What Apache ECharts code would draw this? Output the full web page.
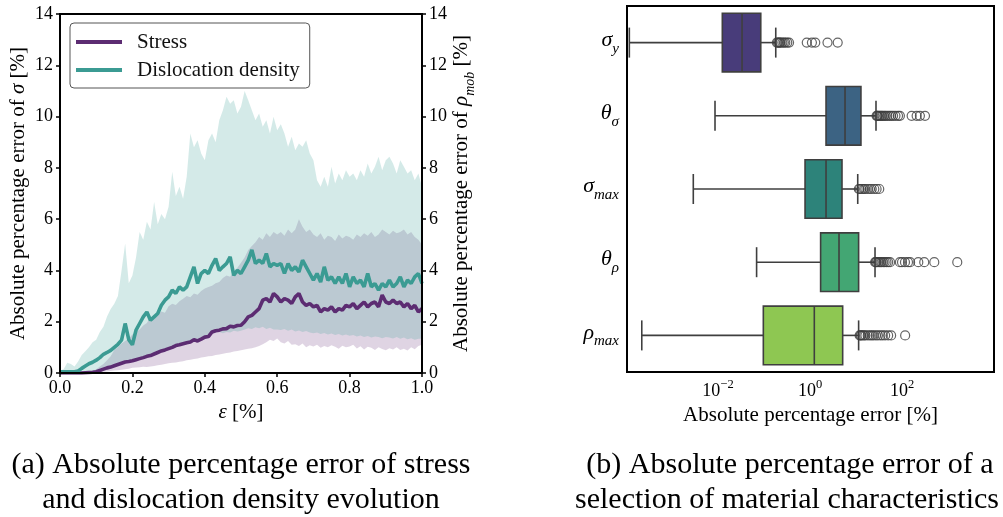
<!DOCTYPE html>
<html><head><meta charset="utf-8">
<script src="https://cdn.jsdelivr.net/npm/echarts@6/dist/echarts.min.js"></script>
<style>html,body{margin:0;padding:0;background:#fff}#c{width:1003px;height:517px}</style>
</head><body><div id="c"></div>
<script>
// ---------- Data: (a) strain evolution ----------
const strain = [0,0.01,0.02,0.03,0.04,0.05,0.06,0.07,0.08,0.09,0.1,0.11,0.12,0.13,0.14,0.15,0.16,0.17,0.18,0.19,0.2,0.21,0.22,0.23,0.24,0.25,0.26,0.27,0.28,0.29,0.3,0.31,0.32,0.33,0.34,0.35,0.36,0.37,0.38,0.39,0.4,0.41,0.42,0.43,0.44,0.45,0.46,0.47,0.48,0.49,0.5,0.51,0.52,0.53,0.54,0.55,0.56,0.57,0.58,0.59,0.6,0.61,0.62,0.63,0.64,0.65,0.66,0.67,0.68,0.69,0.7,0.71,0.72,0.73,0.74,0.75,0.76,0.77,0.78,0.79,0.8,0.81,0.82,0.83,0.84,0.85,0.86,0.87,0.88,0.89,0.9,0.91,0.92,0.93,0.94,0.95,0.96,0.97,0.98,0.99,1.0];

const stressMean = [0,0,0,0,0,0,0,0.01,0.02,0.03,0.05,0.1,0.15,0.2,0.23,0.28,0.33,0.38,0.43,0.45,0.48,0.52,0.56,0.6,0.65,0.68,0.74,0.8,0.86,0.9,0.95,1.0,1.07,1.1,1.14,1.18,1.21,1.3,1.25,1.32,1.4,1.42,1.6,1.65,1.67,1.72,1.73,1.82,1.8,1.85,1.86,2.0,2.19,2.25,2.38,2.51,2.84,2.9,2.77,3.1,2.97,2.77,2.9,2.84,2.71,2.97,3.1,2.77,2.64,2.71,2.58,2.64,2.38,2.51,2.45,2.58,2.38,2.51,2.45,2.64,2.58,2.71,2.51,2.64,2.77,2.58,2.71,2.77,2.58,3.04,2.77,2.71,2.84,2.71,2.77,2.58,2.71,2.51,2.64,2.38,2.51];
const stressLow = [0,0,0,0,0,0,0,0,0,0.01,0.02,0.03,0.05,0.06,0.08,0.1,0.11,0.13,0.15,0.17,0.2,0.21,0.22,0.24,0.23,0.25,0.27,0.3,0.32,0.35,0.38,0.4,0.41,0.44,0.46,0.5,0.52,0.55,0.57,0.6,0.62,0.65,0.66,0.7,0.72,0.75,0.78,0.8,0.84,0.86,0.89,0.92,0.95,0.97,1.0,1.05,1.12,1.2,1.3,1.25,1.35,1.2,1.15,1.25,1.1,1.12,1.05,1.15,1.0,1.08,1.03,1.1,0.98,1.05,1.0,1.08,1.02,0.95,1.06,1.0,1.03,1.1,0.96,1.04,0.92,1.02,0.98,0.9,1.0,0.94,0.89,0.97,0.92,1.0,0.9,0.95,0.88,1.0,0.93,1.05,1.1];
const stressHigh = [0,0,0,0,0,0,0.01,0.02,0.04,0.08,0.15,0.25,0.35,0.5,0.65,0.9,1.0,1.15,1.25,1.35,1.5,1.6,1.7,1.85,1.95,2.2,2.1,2.3,2.4,2.35,2.6,2.7,2.65,2.8,2.9,3.0,2.95,3.1,3.05,3.2,3.3,3.35,3.4,3.5,3.55,3.7,3.8,3.75,3.95,4.1,4.3,4.5,4.8,4.95,5.1,5.3,5.2,5.45,5.3,5.5,5.4,5.5,5.35,5.6,5.45,5.6,6.0,5.7,5.5,5.6,5.4,5.3,5.45,5.2,5.35,5.3,5.15,5.4,5.25,5.35,5.3,5.2,5.4,5.3,5.45,5.35,5.5,5.3,5.4,5.6,5.5,5.4,5.55,5.45,5.5,5.6,5.4,5.5,5.3,5.2,5.0];

const disMean = [0.05,0.05,0.05,0.05,0.05,0.08,0.18,0.27,0.36,0.42,0.5,0.6,0.73,0.8,0.88,1.0,1.12,1.28,1.93,1.3,1.1,1.67,1.93,2.19,2.38,2.06,2.19,2.32,2.64,2.84,2.97,3.23,3.1,3.36,3.23,3.36,3.75,4.14,3.49,3.88,4.0,3.88,4.2,4.46,4.0,4.14,4.27,4.53,3.81,4.0,3.88,4.14,4.4,4.8,4.27,4.4,4.27,4.66,4.14,4.27,4.2,4.27,3.88,4.27,4.0,4.14,3.94,4.4,4.14,3.88,3.62,3.88,3.55,4.14,3.62,3.75,3.49,3.75,3.49,3.88,3.36,3.75,3.49,3.62,3.36,3.88,3.36,3.49,3.23,3.49,3.36,3.62,3.36,3.49,3.75,3.36,3.62,3.49,3.75,3.88,3.49];
const disLow = [0,0,0,0,0,0,0.01,0.02,0.03,0.04,0.05,0.08,0.1,0.14,0.17,0.25,0.3,0.35,0.4,0.45,0.5,0.55,0.58,0.62,0.66,0.72,0.76,0.8,0.84,0.88,0.95,0.98,1.1,1.08,1.15,1.2,1.25,1.3,1.28,1.38,1.45,1.45,1.58,1.62,1.6,1.55,1.6,1.58,1.65,1.62,1.65,1.7,1.75,1.72,1.78,1.75,1.8,1.72,1.76,1.7,1.7,1.68,1.72,1.65,1.7,1.62,1.66,1.6,1.64,1.58,1.55,1.58,1.52,1.56,1.5,1.54,1.48,1.52,1.46,1.5,1.45,1.48,1.42,1.46,1.4,1.44,1.38,1.42,1.4,1.36,1.4,1.38,1.35,1.4,1.34,1.38,1.32,1.36,1.3,1.34,1.35];
const disHigh = [0.1,0.15,0.4,0.35,0.25,0.45,0.7,0.85,1.0,1.2,1.3,1.6,1.8,2.2,2.5,2.7,3.0,4.0,5.05,3.5,3.8,4.5,5.5,5.2,5.9,5.6,6.67,5.8,6.2,6.0,6.48,7.85,6.9,7.26,6.8,7.65,9.34,8.8,9.08,8.56,8.3,9.08,9.34,9.0,9.86,10.25,10.77,10.5,10.64,10.12,10.38,11.0,10.64,10.25,9.86,10.12,9.6,9.86,9.34,9.99,9.47,9.7,9.34,8.82,9.21,8.69,8.95,8.82,9.08,8.56,8.3,7.52,7.26,7.65,7.26,8.04,7.39,7.78,7.52,7.91,7.65,7.78,7.52,7.91,7.65,8.17,7.78,8.04,8.43,7.91,8.3,8.43,8.17,7.78,8.3,8.04,7.78,7.91,7.52,7.78,7.26];

const yTicksA = [0,2,4,6,8,10,12,14];

// ---------- Data: (b) boxplots ----------
const boxCategories = ['σ_y','θ_σ','σ_max','θ_ρ','ρ_max'];
// [lower whisker, Q1, median, Q3, upper whisker]
const boxStats = [
  [0.000118, 0.0124, 0.0333, 0.085, 0.18],
  [0.0086, 2.23, 5.77, 12.8, 27.2],
  [0.0029, 0.78, 2.23, 4.96, 10.9],
  [0.069, 1.7, 4.27, 11.4, 25.9],
  [0.00022, 0.0966, 1.24, 5.13, 11.4]
];
const outliers = [
  [0.19,0.2,0.21,0.22,0.23,0.25,0.27,0.29,0.32,0.35,0.85,1.1,1.3,2.4,4.0],
  [28,29,30,32,34,36,38,41,44,48,53,58,64,72,82,90,162,208,245,316],
  [11.5,12,13,14,15,16,18,20,22,25,28,32],
  [26,27,28,30,32,34,36,39,42,46,50,55,90,100,116,135,150,226,304,503,1590],
  [12,12.5,13,14,15,16,18,20,22,24,27,30,34,38,43,50,58,117]
];
const xTicksB = [0.01, 1, 100];
const boxColors = ['#483c7a','#3c6383','#2d837a','#43a673','#8ec752'];

// ---------- Build ----------
const FONT = 'Liberation Serif';
const zip = (xs, ys) => xs.map((x, i) => [x, ys[i]]);
const bandRows = (lo, hi) => strain.map((x, i) => [x, lo[i], hi[i]]);

const catLabel = {
  'σ_y': '{i|σ}{s|y}', 'θ_σ': '{i|θ}{s|σ}', 'σ_max': '{i|σ}{s|max}',
  'θ_ρ': '{i|θ}{s|ρ}', 'ρ_max': '{i|ρ}{s|max}'
};

const boxData = boxStats.map((s, i) => [i].concat(s));
const outlierData = [];
outliers.forEach((arr, i) => arr.forEach(v => outlierData.push([v, i])));

const PURPLE = '#5c2c72', TEAL = '#3b9b93';
const axisLineStyle = { color: '#000', width: 2 };
const tickStyle = { color: '#000', width: 1.5 };
const TICK_FS = 18, NAME_FS = 21;

function bandSeries(lo, hi, fill) {
  return {
    type: 'custom', xAxisIndex: 0, yAxisIndex: 0, data: bandRows(lo, hi),
    encode: { x: 0, y: [1, 2] }, silent: true, clip: true,
    renderItem: (params, api) => {
      if (params.dataIndex !== 0) return null;
      const top = strain.map((x, i) => api.coord([x, hi[i]]));
      const bot = strain.map((x, i) => api.coord([x, lo[i]])).reverse();
      return { type: 'polygon', shape: { points: top.concat(bot) }, style: { fill: fill, stroke: null } };
    }
  };
}

const chart = echarts.init(document.getElementById('c'), null, { renderer: 'canvas' });
chart.setOption({
  animation: false,
  textStyle: { fontFamily: FONT },
  grid: [
    { left: 60, top: 14, width: 362, height: 359, show: true, borderColor: '#000', borderWidth: 2, backgroundColor: 'transparent', z: 5 },
    { left: 627, top: 6, width: 367, height: 366, show: true, borderColor: '#000', borderWidth: 2, backgroundColor: 'transparent', z: 5 }
  ],
  legend: {
    data: ['Stress', 'Dislocation density'],
    left: 70, top: 23, orient: 'vertical',
    icon: 'rect', itemWidth: 46, itemHeight: 4, itemGap: 4,
    padding: [7, 10, 6, 6],
    borderColor: '#555', borderWidth: 1, borderRadius: 4, backgroundColor: '#fff',
    textStyle: { fontFamily: FONT, fontSize: 21, color: '#111', padding: [0, 0, 0, 10], lineHeight: 24 }
  },
  xAxis: [
    { type: 'value', gridIndex: 0, min: 0, max: 1, interval: 0.2, z: 10,
      name: '{i|ε} [%]', nameLocation: 'middle', nameGap: 28,
      nameTextStyle: { fontFamily: FONT, fontSize: NAME_FS, color: '#000', rich: { i: { fontStyle: 'italic', fontSize: NAME_FS, fontFamily: FONT } } },
      axisLine: { lineStyle: axisLineStyle }, axisTick: { length: 4, lineStyle: tickStyle },
      splitLine: { show: false },
      axisLabel: { color: '#000', fontSize: TICK_FS, fontFamily: FONT, margin: 6, formatter: v => v.toFixed(1) } },
    { type: 'log', gridIndex: 1, min: 1.05e-4, max: 1e4, logBase: 10, z: 10,
      name: 'Absolute percentage error [%]', nameLocation: 'middle', nameGap: 28,
      nameTextStyle: { fontFamily: FONT, fontSize: NAME_FS, color: '#000' },
      axisLine: { lineStyle: axisLineStyle },
      axisTick: { length: 4, lineStyle: tickStyle, customValues: xTicksB },
      minorTick: { show: false }, splitLine: { show: false },
      axisLabel: { color: '#000', fontSize: TICK_FS, fontFamily: FONT, margin: 6, customValues: xTicksB,
        formatter: v => { const e = Math.round(Math.log10(v)); return '{b|10}{p|' + (e < 0 ? '−' + (-e) : e) + '}'; },
        rich: { b: { fontSize: TICK_FS, fontFamily: FONT, color: '#000', lineHeight: 22, verticalAlign: 'bottom' },
                p: { fontSize: 12.5, fontFamily: FONT, color: '#000', lineHeight: 22, verticalAlign: 'top' } } } }
  ],
  yAxis: [
    { type: 'value', gridIndex: 0, min: 0, max: 14, interval: 2, position: 'left', z: 10,
      name: '{n|Absolute percentage error of }{i|σ}{n| [%]}', nameLocation: 'middle', nameGap: 31, nameRotate: 90,
      nameTextStyle: { rich: { n: { fontSize: NAME_FS, fontFamily: FONT, color: '#000' }, i: { fontSize: NAME_FS, fontFamily: FONT, fontStyle: 'italic', color: '#000' } } },
      axisLine: { show: true, lineStyle: axisLineStyle }, axisTick: { show: true, length: 4, lineStyle: tickStyle },
      splitLine: { show: false },
      axisLabel: { color: '#000', fontSize: TICK_FS, fontFamily: FONT, margin: 7 } },
    { type: 'value', gridIndex: 0, min: 0, max: 14, interval: 2, position: 'right', z: 10,
      name: '{n|Absolute percentage error of }{i|ρ}{s|mob}{n| [%]}', nameLocation: 'middle', nameGap: 28, nameRotate: 90,
      nameTextStyle: { rich: {
        n: { fontSize: NAME_FS, fontFamily: FONT, color: '#000', lineHeight: 26, verticalAlign: 'top' },
        i: { fontSize: NAME_FS, fontFamily: FONT, fontStyle: 'italic', color: '#000', lineHeight: 26, verticalAlign: 'top' },
        s: { fontSize: 14, fontFamily: FONT, fontStyle: 'italic', color: '#000', lineHeight: 26, verticalAlign: 'bottom' } } },
      axisLine: { show: true, lineStyle: axisLineStyle }, axisTick: { show: true, length: 4, lineStyle: tickStyle },
      splitLine: { show: false },
      axisLabel: { color: '#000', fontSize: TICK_FS, fontFamily: FONT, margin: 7 } },
    { type: 'category', gridIndex: 1, inverse: true, data: boxCategories, z: 10,
      axisLine: { lineStyle: axisLineStyle }, axisTick: { alignWithLabel: true, length: 5, lineStyle: tickStyle },
      splitLine: { show: false },
      axisLabel: { margin: 8, formatter: v => catLabel[v],
        rich: { i: { fontSize: 22, fontFamily: FONT, fontStyle: 'italic', color: '#000', lineHeight: 27, verticalAlign: 'top' },
                s: { fontSize: 15, fontFamily: FONT, fontStyle: 'italic', color: '#000', lineHeight: 27, verticalAlign: 'bottom' } } } }
  ],
  graphic: [
    { type: 'text', x: 241, y: 465, style: { text: '(a) Absolute percentage error of stress', font: '30px "' + FONT + '"', fill: '#000', textAlign: 'center', textVerticalAlign: 'middle' } },
    { type: 'text', x: 241, y: 500, style: { text: 'and dislocation density evolution', font: '30px "' + FONT + '"', fill: '#000', textAlign: 'center', textVerticalAlign: 'middle' } },
    { type: 'text', x: 790, y: 465, style: { text: '(b) Absolute percentage error of a', font: '30px "' + FONT + '"', fill: '#000', textAlign: 'center', textVerticalAlign: 'middle' } },
    { type: 'text', x: 787, y: 500, style: { text: 'selection of material characteristics', font: '30px "' + FONT + '"', fill: '#000', textAlign: 'center', textVerticalAlign: 'middle' } }
  ],
  series: [
    bandSeries(stressLow, stressHigh, 'rgba(95,42,115,0.2)'),
    { type: 'line', name: 'Stress', xAxisIndex: 0, yAxisIndex: 0, data: zip(strain, stressMean), symbol: 'none', color: PURPLE, lineStyle: { color: PURPLE, width: 3.6 } },
    bandSeries(disLow, disHigh, 'rgba(59,158,150,0.22)'),
    { type: 'line', name: 'Dislocation density', xAxisIndex: 0, yAxisIndex: 0, data: zip(strain, disMean), symbol: 'none', color: TEAL, lineStyle: { color: TEAL, width: 3.6 } },
    { type: 'custom', xAxisIndex: 1, yAxisIndex: 2, data: boxData, encode: { x: [1, 2, 3, 4, 5], y: 0 },
      renderItem: (params, api) => {
        const c = api.value(0);
        const lo = api.coord([api.value(1), c]), q1 = api.coord([api.value(2), c]), md = api.coord([api.value(3), c]),
              q3 = api.coord([api.value(4), c]), hi = api.coord([api.value(5), c]);
        let band = api.size([1, 1])[1]; if (!isFinite(band) || band <= 0) band = 73.2;
        const hb = band * 0.4, hc = band * 0.205, y = lo[1];
        const st = { stroke: '#3f3f3f', lineWidth: 1.6 };
        return { type: 'group', children: [
          { type: 'line', shape: { x1: lo[0], y1: y, x2: q1[0], y2: y }, style: st },
          { type: 'line', shape: { x1: q3[0], y1: y, x2: hi[0], y2: y }, style: st },
          { type: 'line', shape: { x1: lo[0], y1: y - hc, x2: lo[0], y2: y + hc }, style: st },
          { type: 'line', shape: { x1: hi[0], y1: y - hc, x2: hi[0], y2: y + hc }, style: st },
          { type: 'rect', shape: { x: q1[0], y: y - hb, width: q3[0] - q1[0], height: 2 * hb }, style: { fill: boxColors[c], stroke: '#3f3f3f', lineWidth: 1.6 } },
          { type: 'line', shape: { x1: md[0], y1: y - hb, x2: md[0], y2: y + hb }, style: st }
        ] };
      } },
    { type: 'scatter', xAxisIndex: 1, yAxisIndex: 2, data: outlierData, symbol: 'circle', symbolSize: 9,
      itemStyle: { color: 'rgba(0,0,0,0)', borderColor: '#3f3f3f', borderWidth: 1.2 }, z: 4 }
  ]
});
</script></body></html>
